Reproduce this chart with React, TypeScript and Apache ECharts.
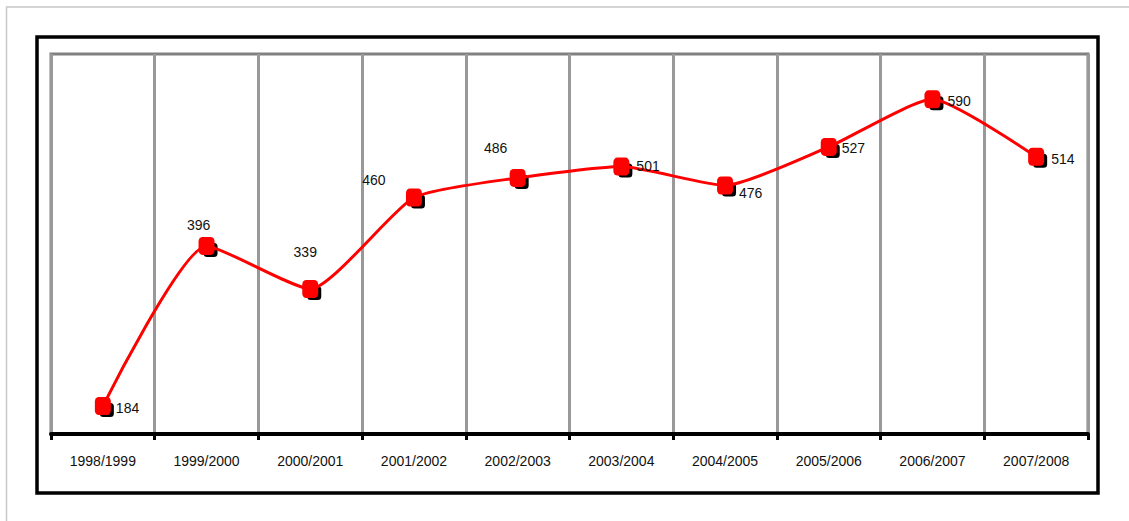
import React, { useEffect, useRef } from "react";
import * as echarts from "echarts";

const categories = [
  "1998/1999", "1999/2000", "2000/2001", "2001/2002", "2002/2003",
  "2003/2004", "2004/2005", "2005/2006", "2006/2007", "2007/2008",
];
const values = [184, 396, 339, 460, 486, 501, 476, 527, 590, 514];

// label placement per point: [position, distance, offsetX, offsetY]
const labelPlacement: [string, number, number, number][] = [
  ["right", 5, 0, 2],
  ["top", 5, -8, 0],
  ["top", 21, -5, 0],
  ["top", 2, -40, 0],
  ["top", 14, -22, 0],
  ["right", 7, 0, -1],
  ["right", 6, 0, 8],
  ["right", 5, 0, 1],
  ["right", 7, 0, 2],
  ["right", 7, 0, 2],
];

export default function App() {
  const ref = useRef<HTMLDivElement>(null);
  useEffect(() => {
    if (!ref.current) return;
    const chart = echarts.init(ref.current, undefined, { renderer: "svg" });
    const labelFont = {
      fontFamily: "Liberation Sans, Arial, sans-serif",
      fontSize: 14,
      color: "#111",
    };
    chart.setOption({
      animation: false,
      backgroundColor: "#fff",
      graphic: [
        {
          type: "polyline",
          shape: { points: [[6.5, 521], [6.5, 7], [1129, 7]] },
          style: { stroke: "#c8c8c8", lineWidth: 1.5, fill: null },
          silent: true,
        },
        {
          type: "rect",
          shape: { x: 37, y: 37, width: 1061, height: 456 },
          style: { stroke: "#000", lineWidth: 3.5, fill: null },
          silent: true,
        },
      ],
      grid: {
        left: 51,
        right: 41,
        top: 54,
        bottom: 87,
        show: true,
        borderColor: "#808080",
        borderWidth: 3,
      },
      xAxis: {
        type: "category",
        data: categories,
        boundaryGap: true,
        axisLine: { show: true, lineStyle: { color: "#000", width: 4 } },
        axisTick: {
          show: true,
          interval: 0,
          length: 6,
          lineStyle: { color: "#000", width: 3 },
        },
        splitLine: {
          show: true,
          interval: 0,
          lineStyle: { color: "#999", width: 3 },
        },
        axisLabel: {
          interval: 0,
          margin: 20,
          fontFamily: "Liberation Sans, Arial, sans-serif",
          fontSize: 14,
          color: "#111",
        },
      },
      yAxis: {
        type: "value",
        min: 147,
        max: 650,
        show: false,
        splitLine: { show: false },
      },
      series: [
        {
          type: "scatter",
          data: values,
          symbol: "roundRect",
          symbolSize: [14, 14],
          symbolOffset: [4, 4],
          itemStyle: { color: "#000", opacity: 1 },
          z: 1,
          silent: true,
        },
        {
          type: "line",
          data: values.map((v, i) => {
            const [pos, dist, ox, oy] = labelPlacement[i];
            return {
              value: v,
              label: {
                show: true,
                position: pos,
                distance: dist,
                offset: [ox, oy],
                ...labelFont,
              },
            };
          }),
          smooth: 0.18,
          symbol: "roundRect",
          symbolSize: [16, 18],
          showSymbol: true,
          lineStyle: { color: "#ff0000", width: 3 },
          itemStyle: { color: "#ff0000", opacity: 1 },
          z: 2,
        },
      ],
    });
    return () => chart.dispose();
  }, []);
  return (
    <div
      ref={ref}
      style={{ position: "fixed", left: 0, top: 0, width: 1129, height: 521, background: "#fff" }}
    />
  );
}
